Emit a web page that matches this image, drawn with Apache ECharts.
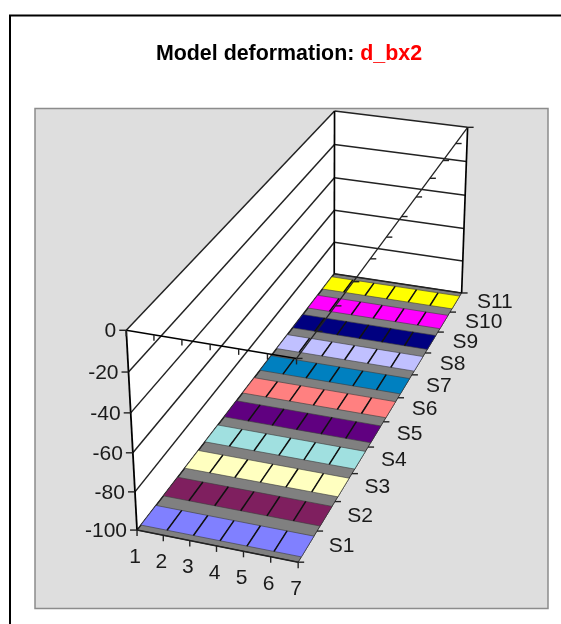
<!DOCTYPE html>
<html><head><meta charset="utf-8">
<style>html,body{margin:0;padding:0;background:#fff}#c{width:561px;height:624px}</style>
<script src="https://cdn.jsdelivr.net/npm/echarts@6/dist/echarts.min.js"></script>
</head><body><div id="c"></div>
<script>
var xLabels=['1','2','3','4','5','6','7'];
var seriesNames=['S1','S2','S3','S4','S5','S6','S7','S8','S9','S10','S11'];
var valueTicks=[0,-20,-40,-60,-80,-100];
var S1=[-100,-100,-100,-100,-100,-100,-100];
var S2=[-100,-100,-100,-100,-100,-100,-100];
var S3=[-100,-100,-100,-100,-100,-100,-100];
var S4=[-100,-100,-100,-100,-100,-100,-100];
var S5=[-100,-100,-100,-100,-100,-100,-100];
var S6=[-100,-100,-100,-100,-100,-100,-100];
var S7=[-100,-100,-100,-100,-100,-100,-100];
var S8=[-100,-100,-100,-100,-100,-100,-100];
var S9=[-100,-100,-100,-100,-100,-100,-100];
var S10=[-100,-100,-100,-100,-100,-100,-100];
var S11=[-100,-100,-100,-100,-100,-100,-100];
var seriesValues=[S1,S2,S3,S4,S5,S6,S7,S8,S9,S10,S11];
var seriesColors=['#8080FF','#7F1F5F','#FFFFC0','#A0E0E0','#600080','#FF8080','#0080C0','#C0C0FF','#000080','#FF00FF','#FFFF00'];

// Camera: fitted so the unit box of the 3-D plot lands on its eight corner anchors.
var anchors=[[0,0,1,126,330],[1,0,1,297,359],[0,1,1,335,111],[1,1,1,467,127],
             [0,0,0,137,530],[1,0,0,298,562],[0,1,0,334,274],[1,1,0,462,293]];
function fitCamera(){
  var A=[],b=[];
  anchors.forEach(function(p){
    var X=p[0],Y=p[1],Z=p[2],u=p[3],v=p[4];
    A.push([X,Y,Z,1,0,0,0,0,-u*X,-u*Y,-u*Z]);b.push(u);
    A.push([0,0,0,0,X,Y,Z,1,-v*X,-v*Y,-v*Z]);b.push(v);
  });
  var n=11,M=[];
  for(var i=0;i<n;i++){M[i]=[];for(var j=0;j<=n;j++){var t=0;
    for(var k=0;k<A.length;k++)t+=A[k][i]*(j<n?A[k][j]:b[k]);M[i][j]=t;}}
  for(i=0;i<n;i++){var pv=i;for(k=i+1;k<n;k++)if(Math.abs(M[k][i])>Math.abs(M[pv][i]))pv=k;
    var tmp=M[i];M[i]=M[pv];M[pv]=tmp;
    for(k=0;k<n;k++){if(k===i)continue;var f=M[k][i]/M[i][i];for(j=i;j<=n;j++)M[k][j]-=f*M[i][j];}}
  return M.map(function(r,i){return r[n]/r[i];});
}
var cam=fitCamera();
// xPos: 0..6 along categories, sPos: 0..11 across series, val: value axis units
function project(xPos,sPos,val){
  var X=xPos/(xLabels.length-1),Y=sPos/seriesNames.length,Z=(val+100)/100;
  var w=cam[8]*X+cam[9]*Y+cam[10]*Z+1;
  return [(cam[0]*X+cam[1]*Y+cam[2]*Z+cam[3])/w,(cam[4]*X+cam[5]*Y+cam[6]*Z+cam[7])/w];
}
var LAST_X=xLabels.length-1,LAST_S=seriesNames.length,FLOOR=-100,TOP=0;
var GAP=1/6;

function poly(api,pts,style){
  return {type:'polygon',shape:{points:pts.map(function(p){return api.coord(p);})},style:style};
}
function seg(api,a,b,w,c){
  var p=api.coord(a),q=api.coord(b);
  return {type:'line',shape:{x1:p[0],y1:p[1],x2:q[0],y2:q[1]},style:{stroke:c||'#000',lineWidth:w,fill:null}};
}
function text(api,pt,dx,dy,str,align){
  var p=api.coord(pt);
  return {type:'text',x:p[0]+dx,y:p[1]+dy,style:{text:str,fill:'#1a1a1a',font:'21px "Liberation Sans"',align:align,verticalAlign:'middle'}};
}
var base={type:'custom',coordinateSystem:'cartesian2d',silent:true,clip:false,animation:false,xAxisIndex:0,yAxisIndex:0};
function layer(name,data,fn,z){
  return Object.assign({},base,{name:name,data:data,z:z,renderItem:function(p,api){return fn(api,p.dataIndex);}});
}
var series=[];
// walls and floor
series.push(layer('walls',[0],function(api){
  return {type:'group',children:[
    poly(api,[project(0,0,TOP),project(0,LAST_S,TOP),project(0,LAST_S,FLOOR),project(0,0,FLOOR)],{fill:'#fff'}),
    poly(api,[project(0,LAST_S,TOP),project(LAST_X,LAST_S,TOP),project(LAST_X,LAST_S,FLOOR),project(0,LAST_S,FLOOR)],{fill:'#fff'}),
    poly(api,[project(0,0,FLOOR),project(LAST_X,0,FLOOR),project(LAST_X,LAST_S,FLOOR),project(0,LAST_S,FLOOR)],{fill:'#808080',stroke:'#333',lineWidth:1})
  ]};
},1));
// wall gridlines
series.push(layer('grid',valueTicks,function(api,i){
  var v=valueTicks[i];
  return {type:'group',children:[
    seg(api,project(0,0,v),project(0,LAST_S,v),1.5,'#222'),
    seg(api,project(0,LAST_S,v),project(LAST_X,LAST_S,v),1.5,'#222')
  ]};
},2));
// ribbons, one series per S
seriesNames.forEach(function(name,si){
  var vals=seriesValues[si];
  series.push(layer(name,vals.slice(0,-1),function(api,i){
    var a=vals[i],b=vals[i+1],s0=si+GAP,s1=si+1-GAP;
    var kids=[poly(api,[project(i,s0,a),project(i+1,s0,b),project(i+1,s1,b),project(i,s1,a)],{fill:seriesColors[si],stroke:'#3a3a3a',lineWidth:0.6})];
    if(i>0)kids.push(seg(api,project(i,s0,a),project(i,s1,a),1.5,'#111'));
    return {type:'group',children:kids};
  },3));
});
// axes: box edges, ticks and labels
series.push(layer('edges',[0],function(api){
  return {type:'group',children:[
    seg(api,project(0,0,TOP),project(0,0,FLOOR),1.8),
    seg(api,project(0,LAST_S,TOP),project(0,LAST_S,FLOOR),1.7),
    seg(api,project(LAST_X,LAST_S,TOP),project(LAST_X,LAST_S,FLOOR),1.7),
    seg(api,project(0,0,FLOOR),project(LAST_X,0,FLOOR),1.5,'#222'),
    seg(api,project(0,0,TOP),project(LAST_X,0,TOP),1.5),
    seg(api,project(LAST_X,0,TOP),project(LAST_X,LAST_S,TOP),1.3,'#222')
  ]};
},4));
function tick(api,pt,dx,dy){
  var p=api.coord(pt);
  return {type:'line',shape:{x1:p[0],y1:p[1],x2:p[0]+dx,y2:p[1]+dy},style:{stroke:'#222',lineWidth:1.4}};
}
series.push(layer('valueAxis',valueTicks,function(api,i){
  var pt=project(0,0,valueTicks[i]);
  return {type:'group',children:[tick(api,pt,-7,0),text(api,pt,-10,1,String(valueTicks[i]),'right')]};
},5));
series.push(layer('xAxis',xLabels,function(api,i){
  var pt=project(i,0,FLOOR);
  return {type:'group',children:[tick(api,pt,0,6),tick(api,project(i,0,TOP),0,6),text(api,pt,-2,27,xLabels[i],'center')]};
},5));
series.push(layer('sAxis',seriesNames.concat(['']),function(api,i){
  var kids=[tick(api,project(LAST_X,i,FLOOR),6,0),tick(api,project(LAST_X,i,TOP),6,0)];
  if(i<seriesNames.length)kids.push(text(api,project(LAST_X,i+0.5,FLOOR),21,0,seriesNames[i],'left'));
  return {type:'group',children:kids};
},5));

var chart=echarts.init(document.getElementById('c'),null,{renderer:'canvas'});
chart.setOption({
  animation:false,
  backgroundColor:'#fff',
  title:{left:284,top:39,textAlign:'center',text:'{a|Model deformation: }{b|d_bx2}',
    textStyle:{rich:{
      a:{fontFamily:'Liberation Sans',fontWeight:'bold',fontSize:21.4,color:'#000'},
      b:{fontFamily:'Liberation Sans',fontWeight:'bold',fontSize:21.4,color:'#FF0000'}}}},
  grid:{left:0,top:0,width:561,height:624,show:false},
  xAxis:{type:'value',min:0,max:561,show:false},
  yAxis:{type:'value',min:0,max:624,inverse:true,show:false},
  graphic:[
    {type:'polyline',z:-1,shape:{points:[[10,624],[10,15.5],[561,15.5]]},style:{stroke:'#000',lineWidth:2,fill:null}},
    {type:'rect',z:-1,shape:{x:35,y:108.5,width:513,height:500},style:{fill:'#DEDEDE',stroke:'#8c8c8c',lineWidth:1.5}}
  ],
  series:series
});
</script></body></html>
